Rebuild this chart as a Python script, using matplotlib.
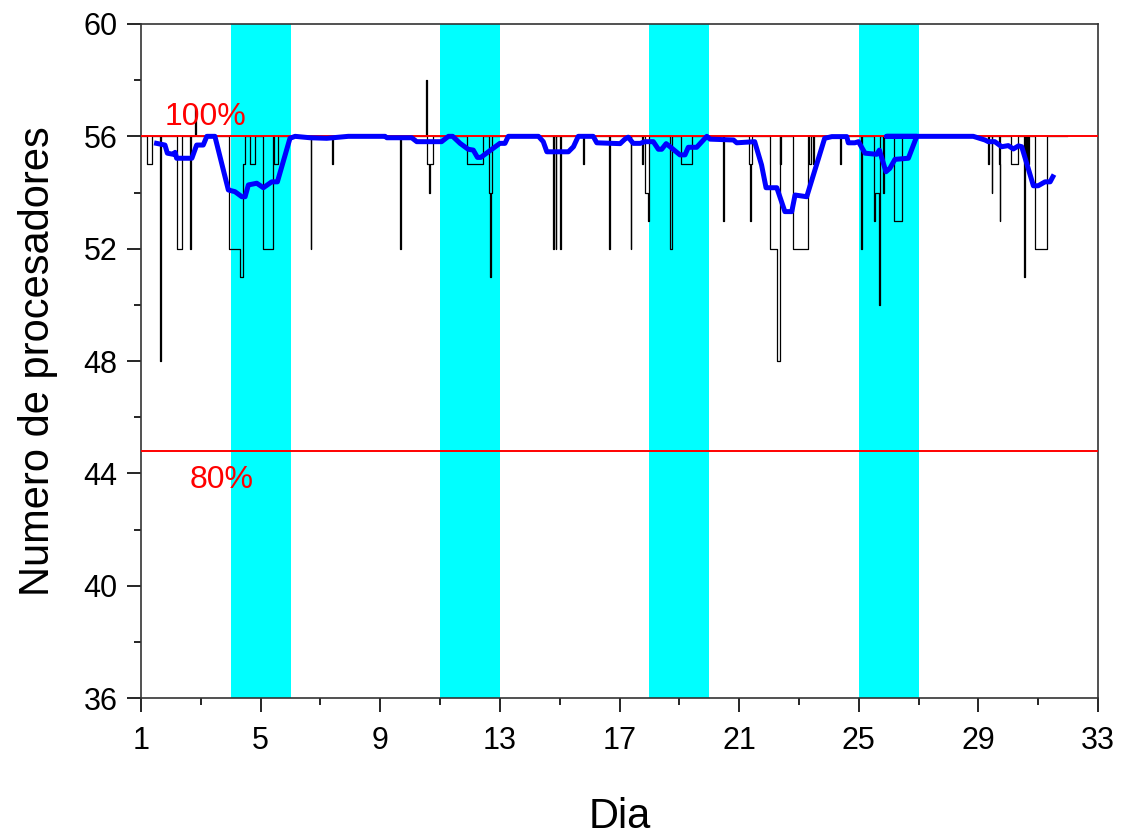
import matplotlib
matplotlib.use("Agg")
import matplotlib.pyplot as plt
from matplotlib.ticker import MultipleLocator

plt.rcParams["font.family"] = ["Liberation Sans", "DejaVu Sans"]

# weekend bands (start, end) in days
weekend_start = [4, 11, 18, 25]
weekend_end = [6, 13, 20, 27]

total_procs = 56
limit_80 = 0.8 * total_procs

x_major = list(range(1, 34, 4))
x_minor = list(range(3, 34, 4))

# processors available (step values, each holds until the next time)
proc_t = [1.0, 1.19, 1.35, 1.64, 1.67, 2.21, 2.36, 2.64, 2.67, 2.81, 2.84,
          3.95, 4.31, 4.40, 4.48, 4.65, 4.81, 5.07, 5.42, 5.46, 5.57,
          6.67, 6.70, 7.40, 7.43, 9.66, 9.69,
          10.53, 10.55, 10.63, 10.65, 10.75,
          11.91, 12.42, 12.64, 12.67, 12.69, 12.72,
          14.79, 14.82, 14.86, 14.89, 15.01, 15.06, 15.77, 15.80,
          16.66, 16.69, 17.37, 17.40, 17.74, 17.77, 17.85, 17.94, 17.97,
          18.69, 18.74, 19.05, 19.44, 20.47, 20.50,
          21.34, 21.37, 21.40, 21.42,
          22.03, 22.28, 22.35, 22.37, 22.40, 22.81, 23.31, 23.34, 23.40, 23.48, 23.51,
          24.37, 24.40, 25.09, 25.12, 25.51, 25.55, 25.68, 25.71, 25.82, 25.85,
          26.18, 26.43,
          29.33, 29.36, 29.44, 29.47, 29.68, 29.71, 29.74,
          30.09, 30.34, 30.54, 30.57, 30.59, 30.62, 30.67, 30.70,
          30.91, 31.30, 31.95]
proc_v = [56, 55, 56, 48, 56, 52, 56, 52, 56, 57, 56,
          52, 51, 55, 56, 55, 56, 52, 56, 55, 56,
          52, 56, 55, 56, 52, 56,
          58, 55, 54, 55, 56,
          55, 56, 54, 51, 54, 56,
          52, 56, 52, 56, 52, 56, 55, 56,
          52, 56, 52, 56, 55, 56, 54, 53, 56,
          52, 56, 55, 56, 53, 56,
          55, 53, 55, 56,
          52, 48, 56, 55, 56, 52, 56, 55, 56, 55, 56,
          55, 56, 52, 56, 53, 54, 50, 56, 54, 56,
          53, 56,
          55, 56, 54, 56, 55, 53, 56,
          55, 56, 51, 56, 55, 56, 55, 56,
          52, 56, 56]

# moving average of available processors
avg_t = [1.52, 1.80, 1.88, 2.08, 2.14, 2.19, 2.70, 2.86, 3.08, 3.20, 3.47,
         3.92, 4.14, 4.37, 4.48, 4.59, 4.87, 5.09, 5.37, 5.56, 5.98, 6.15,
         6.65, 7.21, 7.93, 9.16, 9.22, 10.05, 10.22, 11.05, 11.28, 11.42,
         11.67, 11.94, 12.11, 12.25, 12.36, 13.00, 13.17, 13.28, 14.29,
         14.45, 14.57, 15.29, 15.46, 15.62, 16.12, 16.24, 17.02, 17.18,
         17.29, 17.46, 17.69, 17.85, 18.13, 18.30, 18.41, 18.56, 18.69,
         19.02, 19.19, 19.30, 19.58, 19.92, 20.03, 20.81, 20.92, 21.52,
         21.75, 21.90, 22.26, 22.53, 22.76, 22.87, 23.26, 23.86, 24.10,
         24.60, 24.65, 24.87, 24.99, 25.21, 25.60, 25.69, 25.91, 26.04,
         26.21, 26.66, 26.94,
         25.93, 28.83, 29.22, 29.33, 29.55, 29.78, 30.00, 30.17, 30.34,
         30.45, 30.84, 31.00, 31.23, 31.40, 31.49]
avg_v = [55.75, 55.69, 55.40, 55.36, 55.43, 55.22, 55.22, 55.69, 55.69, 56.0, 56.0,
         54.09, 54.03, 53.85, 53.85, 54.27, 54.33, 54.17, 54.38, 54.38, 55.93, 56.0,
         55.95, 55.93, 56.0, 56.0, 55.95, 55.95, 55.81, 55.81, 56.0, 56.0,
         55.75, 55.54, 55.51, 55.25, 55.25, 55.75, 55.75, 56.0, 56.0,
         55.81, 55.45, 55.45, 55.63, 56.0, 56.0, 55.77, 55.74, 55.90,
         55.97, 55.75, 55.75, 55.81, 55.81, 55.54, 55.54, 55.74, 55.63,
         55.34, 55.34, 55.61, 55.61, 56.0, 55.90, 55.87, 55.77, 55.81,
         54.98, 54.17, 54.17, 53.32, 53.32, 53.91, 53.85, 55.93, 55.99,
         55.99, 55.77, 55.77, 55.81, 55.40, 55.36, 55.51, 54.74, 54.86,
         55.18, 55.22, 56.0,
         56.0, 56.0, 55.87, 55.81, 55.81, 55.63, 55.67, 55.55, 55.66,
         55.63, 54.24, 54.24, 54.38, 54.38, 54.56]

fig = plt.figure(figsize=(11.22, 8.39), dpi=100)
ax = fig.add_axes([0.1257, 0.168, 0.8529, 0.8034])

for s, e in zip(weekend_start, weekend_end):
    ax.axvspan(s, e, color="#00ffff", lw=0, zorder=0)

ax.plot(proc_t, proc_v, drawstyle="steps-post", color="black", lw=0.9, zorder=2)
ax.axhline(total_procs, color="red", lw=1.4, zorder=3)
ax.axhline(limit_80, color="red", lw=1.4, zorder=3)
ax.plot(avg_t, avg_v, color="#0000ff", lw=3.6, solid_joinstyle="round", zorder=4)

ax.text(3.14, 56.7, "100%", color="red", fontsize=23, ha="center", va="center")
ax.text(3.68, 43.75, "80%", color="red", fontsize=23, ha="center", va="center")

ax.set_xlim(1, 33)
ax.set_ylim(36, 60)
ax.set_xticks(x_major)
ax.set_xticks(x_minor, minor=True)
ax.yaxis.set_major_locator(MultipleLocator(4))
ax.yaxis.set_minor_locator(MultipleLocator(2))
ax.tick_params(which="major", direction="out", length=10, width=1.2,
               labelsize=22, pad=7)
ax.tick_params(axis="x", which="major", pad=10)
ax.tick_params(which="minor", direction="out", length=5, width=1.2)
for sp in ax.spines.values():
    sp.set_linewidth(1.2)
    sp.set_color("#333333")

ax.set_xlabel("Dia", fontsize=30, labelpad=30)
ax.set_ylabel("Numero de procesadores", fontsize=30, labelpad=18)

fig.savefig("out.png", dpi=100)
